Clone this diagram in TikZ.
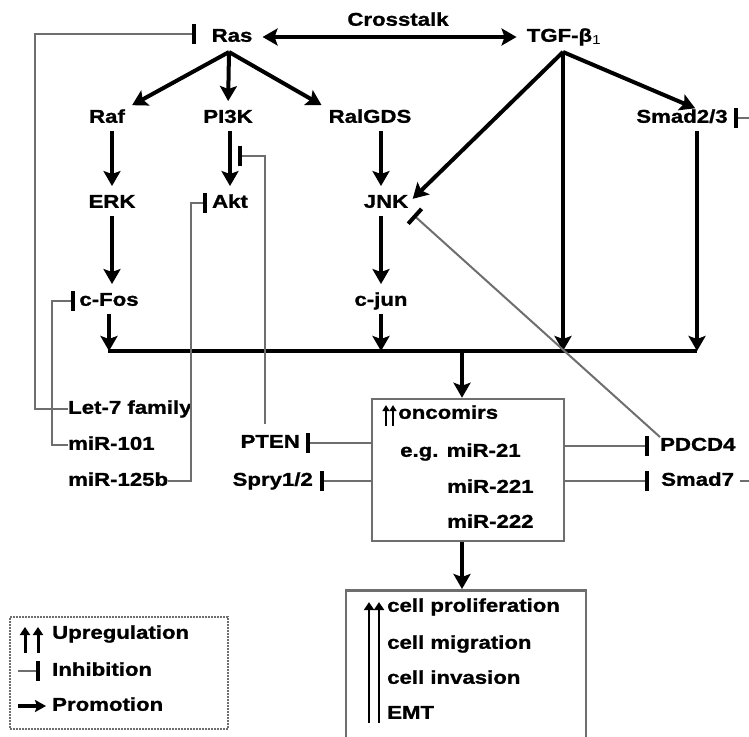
\documentclass[tikz,border=0pt]{standalone}
\usepackage{fontspec}
\setmainfont{Liberation Sans}[FakeStretch=1.2, BoldFeatures={FakeBold=1.2}]
\usetikzlibrary{arrows.meta}

\definecolor{linegray}{RGB}{110,110,110}

\tikzset{
  lbl/.style={font=\fontsize{18.5}{20}\selectfont\bfseries, inner sep=0pt, text height=13.5pt, text depth=4pt},
  prom/.style={line width=4pt, shorten <=4pt, shorten >=8pt, -{Stealth[length=15pt,width=17pt,inset=3pt]}},
  inhib/.style={draw=linegray, line width=2pt, -{Bar[width=20pt,line width=4pt,color=black]}},
  upbox/.style={draw=linegray, line width=2.5pt, inner sep=0pt},
  uparr/.style={line width=3pt, -{Triangle[length=8pt,width=10pt]}},
}

\begin{document}
\begin{tikzpicture}[x=1pt,y=-1pt]
\useasboundingbox (0,0) rectangle (749,736);
\clip (0,0) rectangle (749,736);

% signalling nodes
\node[lbl] (ras) at (232,37) {Ras};
\node[lbl] (tgf) at (564,37) {TGF-β\textsubscript{\mdseries 1}};
\node[lbl] (cross) at (398,21) {Crosstalk};
\node[lbl] (raf) at (107,118) {Raf};
\node[lbl] (pik) at (228,118) {PI3K};
\node[lbl] (ral) at (370,118) {RalGDS};
\node[lbl] (smad) at (682,118) {Smad2/3};
\node[lbl] (erk) at (112,203) {ERK};
\node[lbl] (akt) at (230,203) {Akt};
\node[lbl] (jnk) at (386,203) {JNK};
\node[lbl] (cfos) at (109,301) {c-Fos};
\node[lbl] (cjun) at (381,301) {c-jun};

% microRNAs and targets
\node[lbl, anchor=west] (let7) at (68,409) {Let-7 family};
\node[lbl, anchor=west] (mir101) at (68,445) {miR-101};
\node[lbl, anchor=west] (mir125) at (68,481) {miR-125b};
\node[lbl, anchor=east] (pten) at (300,443) {PTEN};
\node[lbl, anchor=east] (spry) at (313,481) {Spry1/2};
\node[lbl, anchor=west] (pdcd) at (660,446) {PDCD4};
\node[lbl, anchor=west] (smad7) at (661,481) {Smad7};

% oncomir box
\node[upbox, minimum width=192pt, minimum height=142pt] (onco) at (468,470) {};
\node[lbl, anchor=west] (oncomirs) at (398,414) {oncomirs};
\node[lbl, anchor=west] (mir21) at (400,452) {e.g. miR-21};
\node[lbl, anchor=west] (mir221) at (447,488) {miR-221};
\node[lbl, anchor=west] (mir222) at (447,523) {miR-222};
\foreach \dx in {-12,-5}
  \draw[uparr, line width=2.5pt, -{Triangle[length=6pt,width=7pt]}] ([xshift=\dx pt,yshift=-3pt]oncomirs.south west) -- ([xshift=\dx pt]oncomirs.north west);

% outcome box
\node[upbox, minimum width=240pt, minimum height=200pt, anchor=north] (fate) at (466,589) {};
\node[lbl, anchor=west] (prolif) at (387,607) {cell proliferation};
\node[lbl, anchor=west] (migr) at (387,644) {cell migration};
\node[lbl, anchor=west] (inva) at (387,679) {cell invasion};
\node[lbl, anchor=west] (emt) at (387,714) {EMT};
\foreach \dx in {-18,-8}
  \draw[uparr, line width=2.5pt] ([xshift=\dx pt]emt.south west) -- ([xshift=\dx pt,yshift=-4pt]prolif.north west);

% legend
\node[draw=linegray, line width=2pt, dash pattern=on 2pt off 1pt, minimum width=218pt, minimum height=112pt, inner sep=0pt] (legend) at (119,673) {};
\node[lbl, anchor=west] (lup) at (52,634) {Upregulation};
\node[lbl, anchor=west] (linh) at (52,671) {Inhibition};
\node[lbl, anchor=west] (lpro) at (52,706) {Promotion};
\foreach \dx in {-27,-14}
  \draw[uparr] ([xshift=\dx pt,yshift=-19pt]lup.west) -- ([xshift=\dx pt,yshift=7pt]lup.west);
\draw[inhib] ([xshift=-34pt]linh.west) -- ([xshift=-12pt]linh.west);
\draw[line width=3.5pt, -{Stealth[length=11pt,width=12pt,inset=2pt]}] ([xshift=-34pt]lpro.west) -- ([xshift=-6pt]lpro.west);

% promotion arrows
\coordinate (rasO) at (229,52);
\coordinate (tgfO) at (563,52);
\coordinate (busL) at (108,351);
\coordinate (busR) at (697,351);
\coordinate (busM) at (462,351);
\draw[line width=4pt] (busL) -- (busR);

\draw[line width=4pt, shorten <=10pt, shorten >=10pt, {Stealth[length=15pt,width=17pt,inset=3pt]}-{Stealth[length=15pt,width=17pt,inset=3pt]}] (ras.east) -- (tgf.west);
\draw[prom, shorten <=0pt] (rasO) -- (raf.north east);
\draw[prom, shorten <=0pt] (rasO) -- (pik.north);
\draw[prom, shorten <=0pt] (rasO) -- (ral.north west);
\draw[prom, shorten <=0pt, shorten >=6pt] (tgfO) -- (jnk.east);
\draw[prom, shorten <=0pt, shorten >=2pt] (tgfO) -- ([xshift=15pt]smad.north);
\draw[prom, shorten <=0pt, shorten >=0pt] (tgfO) -- (tgfO |- busL);

\draw[prom] (raf.south -| erk) -- (erk.north);
\draw[prom] (erk.south) -- (erk.south |- cfos.north);
\draw[prom, shorten >=0pt] (cfos.south) -- (cfos |- busL);
\draw[prom] (pik.south -| akt) -- (akt.north);
\draw[prom] (ral.south -| cjun) -- (cjun |- jnk.north);
\draw[prom] (jnk.south -| cjun) -- (cjun.north);
\draw[prom, shorten >=0pt] (cjun.south) -- (cjun |- busL);
\draw[prom, shorten >=0pt] (smad.south -| busR) -- (busR);
\draw[prom, shorten <=0pt, shorten >=0pt] (busM) -- (busM |- onco.north);
\draw[prom, shorten <=0pt, shorten >=0pt] (busM |- onco.south) -- (busM |- fate.north);

% inhibition lines
\coordinate (pikakt) at (238,156);
\draw[inhib] (let7.west) -- ++(-33,0) |- ([xshift=-15pt,yshift=3pt]ras.west);
\draw[inhib] (mir101.west) -- ++(-16,0) |- ([xshift=-4pt]cfos.west);
\draw[inhib] (mir125.east) -- ++(23,0) |- ([xshift=-5pt]akt.west);
\draw[inhib] ([xshift=-5pt,yshift=10pt]pten.north) |- (pikakt);
\draw[inhib] (pdcd.north west) -- ([shift={(5pt,-3pt)}]jnk.south east);
\draw[inhib] (onco.west |- pten) -- ([xshift=6pt]pten.east);
\draw[inhib] (onco.west |- spry) -- ([xshift=7pt]spry.east);
\draw[inhib] (onco.east |- pdcd) -- ([xshift=-11pt]pdcd.west);
\draw[inhib] (onco.east |- smad7) -- ([xshift=-12pt]smad7.west);
\draw[inhib] ([xshift=6pt]smad7.east) -- ++(30,0) |- ([xshift=6pt]smad.east);
\end{tikzpicture}
\end{document}
